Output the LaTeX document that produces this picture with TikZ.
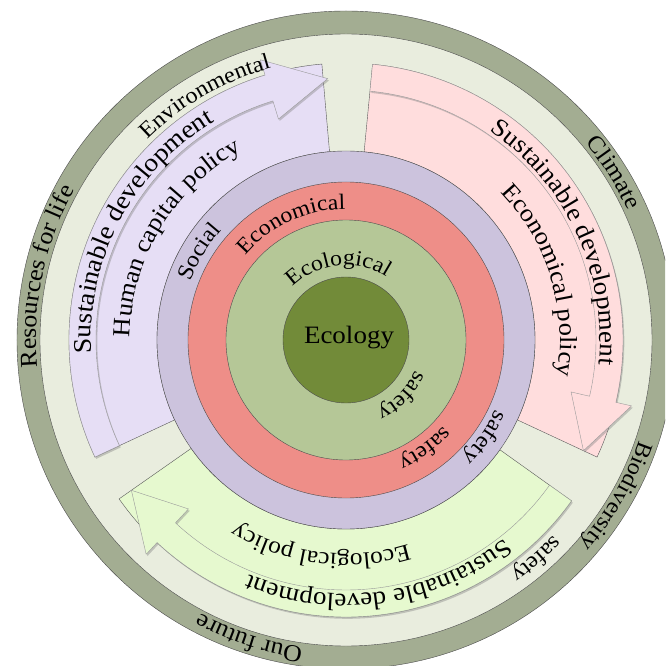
\documentclass[tikz,border=0pt]{standalone}
\usepackage{fontspec}
\setmainfont{Liberation Serif}[FakeStretch=1.08]
\usetikzlibrary{decorations.text,shadows}
\definecolor{outerband}{HTML}{A3AD92}
\definecolor{lightring}{HTML}{E9EDDE}
\definecolor{lavwedge}{HTML}{E6DEF5}
\definecolor{pinkwedge}{HTML}{FFDDDD}
\definecolor{greenwedge}{HTML}{E6F9CF}
\definecolor{socialc}{HTML}{CCC3DD}
\definecolor{econc}{HTML}{EE8E88}
\definecolor{ecolc}{HTML}{B5C797}
\definecolor{ecologyc}{HTML}{728B39}
\newcommand{\arclabel}[4][22]{%
  \pgfmathsetmacro{\myaS}{#2+80}\pgfmathsetmacro{\myaE}{#2-80}%
  \path[decorate, decoration={text along path, text align=center, text={|\fontsize{#1}{#1}\selectfont|#4}}]
    (\myaS:#3pt) arc[start angle=\myaS, end angle=\myaE, radius=#3pt];}
\tikzset{
  ringline/.style={draw=black!70, line width=0.4pt},
  wedgeline/.style={draw=black!65, line width=0.4pt},
  arrowshape/.style={draw=black!40, line width=0.4pt,
    drop shadow={opacity=0.4, shadow xshift=1.3pt, shadow yshift=-1.8pt}},
}
\begin{document}
\begin{tikzpicture}
\useasboundingbox (-346pt,-326pt) rectangle (319pt,340pt);
\clip (-346pt,-326pt) rectangle (319pt,340pt);
\fill[white] (-346pt,-326pt) rectangle (319pt,340pt);
% outer rings
\filldraw[ringline, fill=outerband] (0,0) circle[radius=329pt];
\filldraw[ringline, fill=lightring] (0,0) circle[radius=306pt];
% wedges
\filldraw[wedgeline, fill=lavwedge] (95:189pt) -- (95:277pt) arc[start angle=95, end angle=205, radius=277pt] -- (205:189pt) arc[start angle=205, end angle=95, radius=189pt] -- cycle;
\filldraw[wedgeline, fill=pinkwedge] (84.5:189pt) -- (84.5:277pt) arc[start angle=84.5, end angle=-25, radius=277pt] -- (-25:189pt) arc[start angle=-25, end angle=84.5, radius=189pt] -- cycle;
\filldraw[wedgeline, fill=greenwedge] (-35.5:189pt) -- (-35.5:277pt) arc[start angle=-35.5, end angle=-145, radius=277pt] -- (-145:189pt) arc[start angle=-145, end angle=-35.5, radius=189pt] -- cycle;
% arrows
\filldraw[arrowshape, fill=lavwedge] (205:250pt) arc[start angle=205, end angle=107, radius=250pt] -- (107:231pt) -- (94:262pt) -- (107:293pt) -- (107:277pt) arc[start angle=107, end angle=205, radius=277pt] -- cycle;
\filldraw[arrowshape, fill=pinkwedge] (84.5:250pt) arc[start angle=84.5, end angle=-13, radius=250pt] -- (-13:231pt) -- (-25:262pt) -- (-13:293pt) -- (-13:277pt) arc[start angle=-13, end angle=84.5, radius=277pt] -- cycle;
\filldraw[arrowshape, fill=greenwedge] (-35.5:250pt) arc[start angle=-35.5, end angle=-133, radius=250pt] -- (-133:231pt) -- (-145:262pt) -- (-133:293pt) -- (-133:277pt) arc[start angle=-133, end angle=-35.5, radius=277pt] -- cycle;
% inner circles
\filldraw[ringline, fill=socialc] (0,0) circle[radius=189pt];
\filldraw[ringline, fill=econc] (0,0) circle[radius=158pt];
\filldraw[ringline, fill=ecolc] (0,0) circle[radius=120pt];
\filldraw[ringline, fill=ecologyc] (0,0) circle[radius=63pt];
\node[font=\fontsize{25}{29}\selectfont] (ecology) at (3pt,2pt) {Ecology};
% ring labels
\arclabel[22]{96}{75}{Ecological}
\arclabel[22]{-45}{76}{safety}
\arclabel[22]{115}{131}{Economical}
\arclabel[22]{-54}{130}{safety}
\arclabel[22.5]{149}{166}{Social}
\arclabel[22.5]{-35}{165}{safety}
\arclabel[22.5]{120}{282}{Environmental}
\arclabel[22.5]{-49}{285}{safety}
\arclabel[24]{168}{310}{Resources for life}
\arclabel[23.5]{32}{310}{Climate}
\arclabel[22.5]{-30}{310}{Biodiversity}
\arclabel[24]{-108}{310}{Our future}
% arrow labels
\arclabel[25.5]{152}{255}{Sustainable development}
\arclabel[24.5]{149}{216}{Human capital policy}
\arclabel[25]{25}{254}{Sustainable development}
\arclabel[24.5]{17}{214}{Economical policy}
\arclabel[25]{-82}{254}{Sustainable development}
\arclabel[23.5]{-97}{214}{Ecological policy}
\end{tikzpicture}
\end{document}
